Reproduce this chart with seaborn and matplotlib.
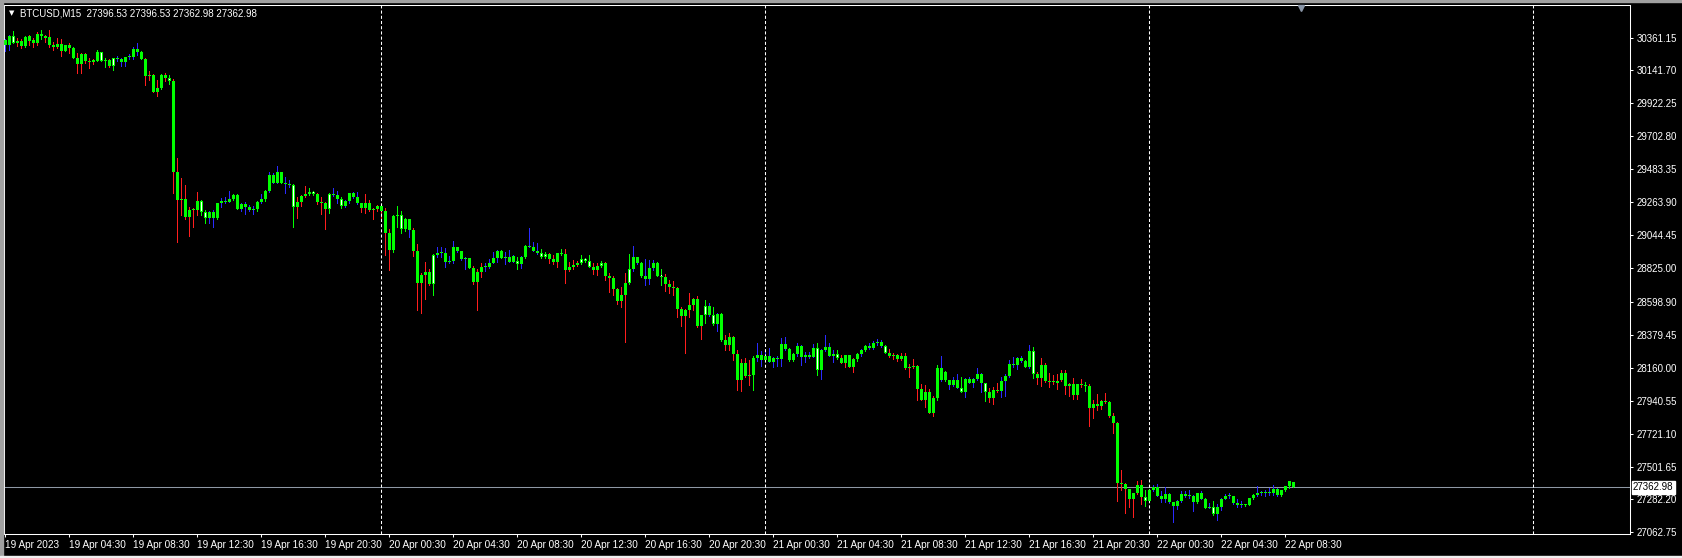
import numpy as np
import pandas as pd
import matplotlib
matplotlib.use("Agg")
import matplotlib.pyplot as plt
import matplotlib.transforms as mtransforms
from matplotlib.patches import Rectangle
import seaborn as sns

SYMBOL = "BTCUSD,M15"
FIRST_BAR = "2023-04-19 00:30"
LAST_PRICE = 27362.98

# 15-minute candles
OPEN = [
    30311, 30311, 30371, 30338, 30338, 30305, 30371, 30345, 30327, 30384,
    30371, 30362, 30311, 30300, 30318, 30273, 30311, 30293, 30227, 30185,
    30251, 30207, 30198, 30207, 30262, 30207, 30211, 30173, 30222, 30216,
    30200, 30229, 30233, 30285, 30267, 30218, 30107, 30111, 30000, 30022,
    30111, 30094, 30074, 29467, 29279, 29285, 29167, 29212, 29212, 29272,
    29201, 29161, 29201, 29156, 29256, 29272, 29267, 29283, 29312, 29218,
    29252, 29234, 29212, 29216, 29267, 29283, 29338, 29445, 29394, 29463,
    29394, 29383, 29376, 29234, 29265, 29305, 29316, 29332, 29318, 29267,
    29256, 29216, 29318, 29314, 29283, 29241, 29274, 29323, 29296, 29256,
    29227, 29256, 29212, 29216, 29238, 29205, 29056, 28945, 29172, 29176,
    29083, 29152, 29079, 28939, 28728, 28779, 28801, 28719, 28912, 28923,
    28925, 28868, 28870, 28963, 28936, 28885, 28890, 28828, 28734, 28799,
    28830, 28832, 28861, 28894, 28939, 28894, 28901, 28868, 28874, 28852,
    28901, 28972, 28968, 28941, 28923, 28896, 28919, 28885, 28868, 28923,
    28921, 28812, 28830, 28845, 28856, 28885, 28872, 28834, 28812, 28839,
    28856, 28772, 28757, 28686, 28606, 28646, 28728, 28817, 28896, 28856,
    28772, 28752, 28823, 28861, 28774, 28768, 28719, 28701, 28692, 28552,
    28506, 28546, 28579, 28619, 28439, 28512, 28572, 28512, 28452, 28519,
    28346, 28312, 28368, 28252, 28079, 28190, 28106, 28110, 28224, 28246,
    28212, 28239, 28201, 28228, 28221, 28319, 28286, 28212, 28252, 28306,
    28230, 28246, 28235, 28295, 28146, 28279, 28299, 28241, 28250, 28224,
    28195, 28246, 28168, 28219, 28252, 28279, 28306, 28292, 28323, 28332,
    28306, 28261, 28239, 28246, 28221, 28239, 28157, 28164, 28172, 28019,
    27946, 28001, 27861, 27961, 28161, 28079, 28079, 28046, 28079, 28028,
    28001, 28086, 28061, 28086, 28119, 28057, 28001, 27961, 28012, 28006,
    28072, 28106, 28186, 28177, 28223, 28206, 28168, 28272, 28117, 28090,
    28179, 28072, 28066, 28070, 28079, 28124, 28039, 28052, 27979, 28050,
    28044, 28041, 27895, 27919, 27906, 27939, 27935, 27839, 27790, 27395,
    27386, 27351, 27284, 27324, 27380, 27297, 27275, 27346, 27364, 27308,
    27284, 27320, 27262, 27240, 27273, 27320, 27302, 27306, 27262, 27324,
    27286, 27228, 27231, 27184, 27231, 27286, 27302, 27304, 27257, 27246,
    27248, 27246, 27291, 27313, 27324, 27326, 27335, 27324, 27351, 27313,
    27344, 27371, 27396.53,
]
HIGH = [
    30351, 30378, 30405, 30356, 30351, 30371, 30376, 30360, 30396, 30411,
    30378, 30411, 30331, 30356, 30351, 30313, 30322, 30300, 30256, 30256,
    30256, 30222, 30216, 30278, 30267, 30222, 30216, 30227, 30238, 30222,
    30233, 30251, 30296, 30327, 30271, 30222, 30138, 30116, 30078, 30116,
    30127, 30111, 30082, 29560, 29427, 29378, 29234, 29227, 29334, 29278,
    29212, 29205, 29212, 29261, 29290, 29296, 29338, 29316, 29316, 29256,
    29267, 29243, 29241, 29272, 29318, 29343, 29467, 29456, 29505, 29467,
    29429, 29412, 29383, 29296, 29310, 29372, 29361, 29341, 29323, 29296,
    29265, 29323, 29361, 29338, 29301, 29278, 29327, 29334, 29334, 29261,
    29318, 29278, 29223, 29245, 29243, 29223, 29085, 29176, 29238, 29205,
    29156, 29154, 29090, 28985, 28790, 28868, 28819, 28916, 28963, 28963,
    28956, 28905, 29005, 28968, 28941, 28901, 28894, 28839, 28816, 28861,
    28861, 28888, 28934, 28943, 28943, 28934, 28945, 28912, 28901, 28905,
    28976, 29094, 29001, 28994, 28950, 28930, 28923, 28912, 28927, 28952,
    28950, 28868, 28879, 28872, 28912, 28894, 28912, 28861, 28861, 28872,
    28868, 28790, 28772, 28694, 28701, 28794, 28919, 28972, 28901, 28865,
    28885, 28879, 28879, 28865, 28817, 28785, 28745, 28739, 28701, 28563,
    28554, 28657, 28628, 28639, 28514, 28612, 28590, 28563, 28528, 28523,
    28379, 28390, 28372, 28279, 28217, 28224, 28212, 28239, 28323, 28272,
    28272, 28290, 28232, 28239, 28361, 28363, 28295, 28257, 28323, 28310,
    28263, 28263, 28317, 28323, 28283, 28379, 28323, 28279, 28279, 28248,
    28248, 28248, 28224, 28257, 28283, 28310, 28323, 28339, 28352, 28346,
    28312, 28286, 28261, 28252, 28257, 28257, 28186, 28219, 28179, 28052,
    28046, 28019, 27975, 28179, 28241, 28139, 28079, 28101, 28119, 28101,
    28090, 28101, 28090, 28161, 28124, 28061, 28024, 28035, 28057, 28101,
    28119, 28212, 28230, 28235, 28241, 28210, 28312, 28301, 28135, 28223,
    28195, 28128, 28112, 28117, 28146, 28146, 28061, 28090, 28052, 28086,
    28068, 28050, 27946, 27986, 27944, 27990, 27941, 27857, 27801, 27479,
    27391, 27355, 27328, 27406, 27413, 27346, 27351, 27380, 27386, 27340,
    27362, 27324, 27268, 27280, 27340, 27340, 27346, 27311, 27328, 27340,
    27291, 27257, 27273, 27253, 27291, 27320, 27328, 27308, 27286, 27273,
    27255, 27295, 27317, 27373, 27340, 27344, 27357, 27380, 27357, 27348,
    27375, 27406, 27396.53,
]
LOW = [
    30273, 30278, 30322, 30305, 30293, 30300, 30311, 30300, 30311, 30349,
    30333, 30300, 30278, 30293, 30240, 30271, 30256, 30222, 30122, 30127,
    30189, 30160, 30182, 30205, 30202, 30167, 30167, 30145, 30207, 30173,
    30173, 30218, 30218, 30245, 30216, 30045, 30078, 29996, 29971, 30020,
    30071, 30049, 29323, 29001, 29178, 29152, 29041, 29101, 29178, 29178,
    29127, 29123, 29101, 29150, 29234, 29256, 29263, 29278, 29216, 29207,
    29183, 29207, 29183, 29205, 29256, 29274, 29330, 29390, 29390, 29390,
    29327, 29367, 29101, 29161, 29241, 29296, 29312, 29312, 29250, 29183,
    29083, 29194, 29307, 29256, 29223, 29234, 29256, 29290, 29252, 29201,
    29190, 29207, 29150, 29203, 29161, 28912, 28812, 28932, 29096, 29061,
    29074, 29034, 28908, 28546, 28523, 28619, 28714, 28645, 28896, 28896,
    28834, 28856, 28856, 28932, 28879, 28819, 28823, 28717, 28546, 28768,
    28808, 28823, 28856, 28865, 28890, 28850, 28863, 28863, 28819, 28823,
    28890, 28963, 28936, 28919, 28892, 28892, 28861, 28852, 28834, 28914,
    28728, 28808, 28819, 28837, 28852, 28868, 28830, 28785, 28779, 28830,
    28745, 28668, 28646, 28586, 28568, 28335, 28719, 28808, 28852, 28768,
    28712, 28719, 28814, 28770, 28712, 28674, 28661, 28646, 28501, 28439,
    28261, 28501, 28546, 28435, 28352, 28461, 28508, 28448, 28408, 28341,
    28279, 28279, 28212, 28013, 28006, 28097, 28046, 28013, 28208, 28175,
    28203, 28197, 28164, 28175, 28175, 28281, 28208, 28208, 28241, 28179,
    28201, 28224, 28235, 28112, 28086, 28270, 28237, 28201, 28219, 28190,
    28168, 28164, 28135, 28208, 28241, 28270, 28286, 28286, 28315, 28297,
    28257, 28230, 28217, 28206, 28215, 28152, 28101, 28157, 27946, 27944,
    27901, 27857, 27839, 27946, 28075, 28075, 28017, 28041, 28024, 27997,
    27968, 28057, 28035, 28079, 28001, 27941, 27935, 27919, 28001, 27968,
    27972, 28097, 28164, 28152, 28197, 28164, 28159, 28095, 28052, 28039,
    28068, 28030, 28052, 28019, 28075, 27986, 27972, 27950, 27950, 28035,
    28006, 27773, 27828, 27879, 27886, 27928, 27835, 27724, 27275, 27342,
    27191, 27235, 27168, 27320, 27253, 27240, 27271, 27337, 27302, 27268,
    27262, 27257, 27129, 27217, 27264, 27297, 27291, 27202, 27257, 27282,
    27224, 27224, 27180, 27142, 27209, 27282, 27293, 27253, 27235, 27235,
    27237, 27242, 27282, 27308, 27315, 27302, 27315, 27315, 27304, 27304,
    27337, 27360, 27362.98,
]
CLOSE = [
    30345, 30371, 30327, 30327, 30305, 30367, 30338, 30327, 30384, 30371,
    30360, 30311, 30300, 30318, 30273, 30311, 30293, 30227, 30185, 30251,
    30207, 30198, 30211, 30262, 30207, 30211, 30173, 30222, 30216, 30200,
    30229, 30233, 30285, 30267, 30218, 30107, 30111, 30000, 30022, 30111,
    30094, 30074, 29467, 29279, 29285, 29167, 29212, 29219, 29272, 29201,
    29161, 29201, 29156, 29256, 29272, 29267, 29283, 29312, 29218, 29252,
    29234, 29212, 29216, 29267, 29283, 29338, 29445, 29394, 29463, 29394,
    29383, 29376, 29234, 29265, 29305, 29316, 29332, 29318, 29267, 29256,
    29216, 29318, 29314, 29283, 29241, 29274, 29323, 29296, 29256, 29227,
    29256, 29212, 29216, 29238, 29205, 29056, 28945, 29172, 29176, 29083,
    29152, 29079, 28939, 28728, 28779, 28801, 28719, 28912, 28923, 28925,
    28868, 28870, 28963, 28936, 28885, 28890, 28828, 28734, 28799, 28830,
    28832, 28861, 28894, 28939, 28894, 28901, 28868, 28905, 28852, 28901,
    28972, 28968, 28941, 28923, 28896, 28919, 28885, 28868, 28923, 28921,
    28812, 28830, 28845, 28856, 28885, 28872, 28834, 28812, 28839, 28856,
    28772, 28757, 28686, 28606, 28646, 28728, 28817, 28896, 28856, 28772,
    28752, 28823, 28861, 28774, 28768, 28719, 28701, 28692, 28552, 28506,
    28546, 28579, 28619, 28439, 28512, 28572, 28512, 28452, 28519, 28346,
    28312, 28368, 28252, 28079, 28190, 28106, 28110, 28224, 28246, 28212,
    28239, 28201, 28228, 28221, 28319, 28286, 28212, 28252, 28306, 28230,
    28246, 28235, 28295, 28146, 28279, 28299, 28241, 28250, 28224, 28195,
    28246, 28168, 28219, 28252, 28279, 28306, 28292, 28323, 28332, 28306,
    28261, 28239, 28246, 28221, 28239, 28157, 28164, 28172, 28019, 27946,
    28001, 27861, 27961, 28161, 28079, 28135, 28046, 28079, 28028, 28001,
    28086, 28061, 28086, 28119, 28057, 28001, 27961, 28012, 28006, 28072,
    28106, 28186, 28177, 28223, 28206, 28168, 28272, 28117, 28090, 28179,
    28072, 28066, 28070, 28057, 28124, 28039, 28052, 27979, 28050, 28044,
    28041, 27895, 27919, 27906, 27939, 27935, 27839, 27790, 27395, 27386,
    27351, 27284, 27324, 27380, 27297, 27275, 27346, 27364, 27308, 27284,
    27320, 27262, 27240, 27273, 27320, 27302, 27306, 27262, 27324, 27286,
    27228, 27233, 27184, 27231, 27286, 27302, 27304, 27257, 27246, 27248,
    27244, 27291, 27313, 27324, 27326, 27335, 27324, 27351, 27313, 27344,
    27371, 27402, 27362.98,
]
# wick colour per bar, ten bars per chunk: r = red, b = blue, g = green,
# w = green wick with a white-centred body
WICK = "".join([
    "bbwrrgrrrg", "rrrrrgrgrr", "rrrgwgrwbb", "bbbbgrrrrg", "rwrrrrrrrw",
    "wbbgbbbggb", "bbbgbgbbbg", "bbwrrrwwrr", "rwbbwbbbbr", "rrrrrrrggw",
    "gbrrrrrwbb", "bbbbbbgrrr", "bbbbgbbbwb", "gbbbwwrrrg", "rrrrwwwrrw",
    "rrrrrrwbbg", "bbbgwrrrrr", "rrrrrwbwbg", "rrrrrrrgbb", "bbbbbbggbb",
    "bbbwbbbbwr", "rrrgbgbbbb", "wrrrrrrrrr", "rrrgbgbbbw", "bbbbbwrrrb",
    "bbbbbgbwrr", "rrrrrrrrrr", "grrrrrrrrr", "rrrrrwgbbb", "bbbbbbbbgb",
    "gbwbbbbbbb", "gggbbbbbbg", "ggg",
])
assert len(WICK) == len(OPEN) == len(HIGH) == len(LOW) == len(CLOSE)

TIME_LABELS = [
    "19 Apr 2023", "19 Apr 04:30", "19 Apr 08:30", "19 Apr 12:30", "19 Apr 16:30",
    "19 Apr 20:30", "20 Apr 00:30", "20 Apr 04:30", "20 Apr 08:30", "20 Apr 12:30",
    "20 Apr 16:30", "20 Apr 20:30", "21 Apr 00:30", "21 Apr 04:30", "21 Apr 08:30",
    "21 Apr 12:30", "21 Apr 16:30", "21 Apr 20:30", "22 Apr 00:30", "22 Apr 04:30",
    "22 Apr 08:30",
]
PRICE_TICKS = [
    30361.15, 30141.70, 29922.25, 29702.80, 29483.35, 29263.90, 29044.45, 28825.00,
    28598.90, 28379.45, 28160.00, 27940.55, 27721.10, 27501.65, 27282.20, 27062.75,
]

LIME = "#00FF00"
WICK_COLORS = {"r": "#FF1E1E", "b": "#2A2AFF", "g": LIME, "w": LIME}

df = pd.DataFrame({"open": OPEN, "high": HIGH, "low": LOW, "close": CLOSE, "wick": list(WICK)})
df["bar"] = np.arange(len(df))

W, H = 1682, 558
X_LIM = (-0.33, 406.17)
Y_LIM = (27052, 30578)
px_price = (Y_LIM[1] - Y_LIM[0]) / 529.0

sns.set_theme(style="dark", rc={"axes.facecolor": "black", "figure.facecolor": "black",
                                "axes.edgecolor": "white", "text.color": "white"})
plt.rcParams["font.family"] = ["Liberation Sans", "DejaVu Sans"]

fig = plt.figure(figsize=(W / 100, H / 100), dpi=100)
ax = fig.add_axes([4 / W, 24 / H, 1626 / W, 529 / H])
ax.set_facecolor("black")
ax.grid(False)

# wicks: one vertical segment per bar, drawn by seaborn
wicks = df.melt(id_vars=["bar", "wick"], value_vars=["low", "high"], value_name="price")
sns.lineplot(data=wicks, x="bar", y="price", units="bar", estimator=None, hue="wick",
             palette=WICK_COLORS, legend=False, sort=False, linewidth=0.6,
             antialiased=False, ax=ax)

# bodies
body_lo = np.minimum(df["open"], df["close"])
body_h = np.maximum((df["open"] - df["close"]).abs(), px_price)
ax.bar(df["bar"], body_h, bottom=body_lo, width=0.75, color=LIME, linewidth=0,
       antialiased=False, zorder=3)
white = df["wick"] == "w"
inner_h = np.maximum(body_h[white] - 2 * px_price, px_price * 0.6)
ax.bar(df["bar"][white], inner_h, bottom=body_lo[white] + px_price, width=0.25,
       color="white", linewidth=0, antialiased=False, zorder=4)

# day separators
times = pd.date_range(FIRST_BAR, periods=int(X_LIM[1]) + 1, freq="15min")
for d in np.flatnonzero((times.hour == 0) & (times.minute == 0)):
    ax.axvline(d, color="white", lw=0.75, ls=(0, (3, 2)), zorder=2)

# last price line
ax.axhline(LAST_PRICE, color="#8E98A4", lw=0.75, zorder=1)

ax.set_xlim(*X_LIM)
ax.set_ylim(*Y_LIM)
ax.set_xlabel("")
ax.set_ylabel("")

ax.yaxis.tick_right()
ax.set_yticks(PRICE_TICKS)
ax.set_yticklabels([f"{v:.2f}" for v in PRICE_TICKS])
ax.tick_params(axis="y", colors="white", labelcolor="white", labelsize=7,
               length=2.2, width=0.75, pad=2.5, right=True, left=False)

ax.set_xticks(np.arange(len(TIME_LABELS)) * 16)
ax.set_xticklabels(TIME_LABELS, ha="left",
                   family=["Liberation Sans Narrow", "Liberation Sans", "DejaVu Sans"])
ax.tick_params(axis="x", colors="white", labelcolor="white", labelsize=7.2,
               length=2.5, width=0.75, pad=1.5, bottom=True)
for s in ax.spines.values():
    s.set_color("white")
    s.set_linewidth(0.75)

# price tag on the right axis
ax.text(1.0 + 3 / 1626, LAST_PRICE, f"{LAST_PRICE:.2f}", transform=ax.get_yaxis_transform(),
        color="black", fontsize=7, va="center", ha="left",
        bbox=dict(boxstyle="square,pad=0.15", fc="white", ec="white"))

# chart shift marker at top
trans = mtransforms.blended_transform_factory(ax.transData, ax.transAxes)
ax.plot([len(df) + 1], [1 - 3 / 529], marker="v", ms=5, color="#8A96A8", mec="#8A96A8",
        transform=trans, clip_on=False, zorder=6)

# header
fig.text(9 / W, 1 - 13 / H, "\u25BC", color="white", fontsize=5, va="center",
         family=["DejaVu Sans"])
fig.text(20 / W, 1 - 13 / H,
         f"{SYMBOL}  {OPEN[-1]:.2f} {HIGH[-1]:.2f} {LOW[-1]:.2f} {CLOSE[-1]:.2f}",
         color="white", fontsize=7, va="center")

# window frame strips
fig.patches.append(Rectangle((0, 0), 3 / W, 1, transform=fig.transFigure, color="#A0A0A0"))
fig.patches.append(Rectangle((0, 1 - 2 / H), 1, 2 / H, transform=fig.transFigure, color="#A0A0A0"))
fig.patches.append(Rectangle((0, 0), 1, 2 / H, transform=fig.transFigure, color="#F0F0F0"))

fig.savefig("out.png", dpi=100, facecolor="black")
plt.close(fig)
